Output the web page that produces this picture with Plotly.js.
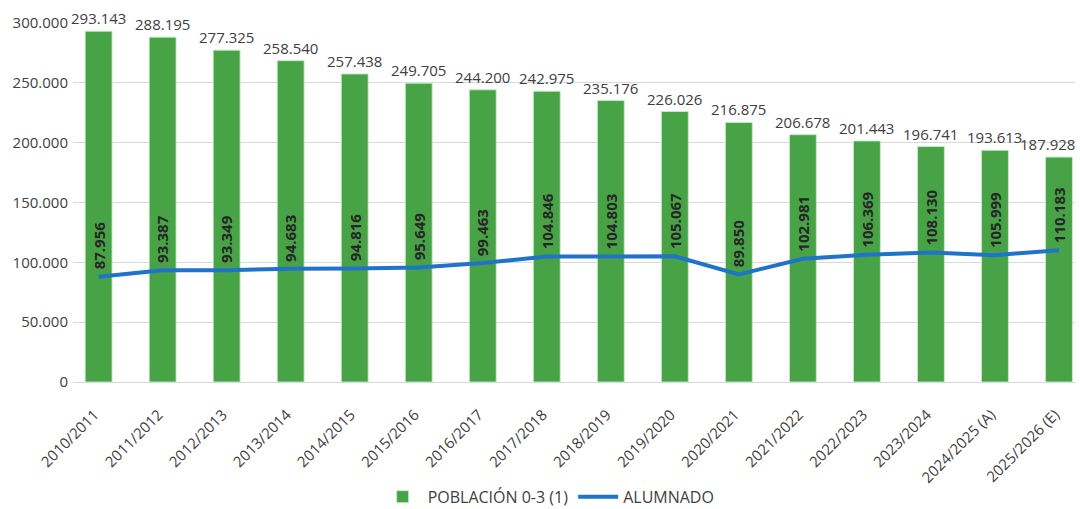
<!DOCTYPE html>
<html>
<head>
<meta charset="utf-8">
<script src="https://cdn.plot.ly/plotly-3.0.1.min.js"></script>
<style>
  html, body { margin: 0; padding: 0; background: #ffffff; }
  #chart { width: 1080px; height: 509px; }
</style>
</head>
<body>
<div id="chart"></div>
<script>
const categories = ["2010/2011","2011/2012","2012/2013","2013/2014","2014/2015","2015/2016","2016/2017","2017/2018","2018/2019","2019/2020","2020/2021","2021/2022","2022/2023","2023/2024","2024/2025 (A)","2025/2026 (E)"];
// bar heights as drawn in the picture
const poblacion = [293143, 288195, 277325, 268540, 257438, 249705, 244200, 242975, 235176, 226026, 216875, 206678, 201443, 196741, 193613, 187928];
// labels printed above the bars
const poblacionLabels = ["293.143","288.195","277.325","258.540","257.438","249.705","244.200","242.975","235.176","226.026","216.875","206.678","201.443","196.741","193.613","187.928"];
const alumnado = [87956, 93387, 93349, 94683, 94816, 95649, 99463, 104846, 104803, 105067, 89850, 102981, 106369, 108130, 105999, 110183];
const alumnadoLabels = ["87.956","93.387","93.349","94.683","94.816","95.649","99.463","104.846","104.803","105.067","89.850","102.981","106.369","108.130","105.999","110.183"];

const xs = categories.map((c, i) => i);

const barTrace = {
  type: "bar",
  name: "POBLACIÓN 0-3 (1)",
  x: xs,
  y: poblacion,
  width: 0.42,
  cliponaxis: false,
  marker: { color: "#47a346", line: { color: "rgba(200,235,200,0.9)", width: 1 } },
  hoverinfo: "skip"
};

const lineTrace = {
  type: "scatter",
  mode: "lines",
  name: "ALUMNADO",
  x: xs,
  y: alumnado,
  line: { color: "#1f74c9", width: 4 },
  hoverinfo: "skip"
};

const lastIdx = categories.length - 1;
const barLabelAnns = poblacion.map((v, i) => ({
  x: i,
  y: v,
  xref: "x",
  yref: "y",
  text: poblacionLabels[i],
  showarrow: false,
  xanchor: i === lastIdx ? "right" : "center",
  xshift: i === lastIdx ? 18 : 0,
  yanchor: "bottom",
  yshift: 1,
  font: { family: "Open Sans", size: 15, color: "#404040" }
}));

const lineLabelAnns = alumnado.map((v, i) => ({
  x: i,
  y: v,
  xref: "x",
  yref: "y",
  text: alumnadoLabels[i],
  textangle: -90,
  showarrow: false,
  xanchor: "center",
  yanchor: "bottom",
  yshift: 5,
  font: { family: "Open Sans", size: 15, color: "#262626", weight: "bold" }
}));

const layout = {
  width: 1080,
  height: 509,
  margin: { l: 73, r: 5, t: 23, b: 127 },
  paper_bgcolor: "#ffffff",
  plot_bgcolor: "#ffffff",
  separators: ",.",
  showlegend: true,
  legend: {
    orientation: "h",
    xref: "container",
    yref: "container",
    x: 0.508,
    xanchor: "center",
    y: 0.024,
    yanchor: "middle",
    font: { family: "Open Sans", size: 16, color: "#404040" },
    traceorder: "normal",
    itemwidth: 40
  },
  xaxis: {
    type: "linear",
    automargin: false,
    range: [-0.4, 15.25],
    tickmode: "array",
    tickvals: xs,
    ticktext: categories,
    tickangle: -45,
    tickfont: { family: "Open Sans", size: 15, color: "#404040" },
    showgrid: false,
    zeroline: false,
    showline: false,
    ticks: "",
    ticklabelstandoff: 20,
    ticklabelshift: -4
  },
  yaxis: {
    automargin: false,
    range: [0, 300000],
    tickmode: "linear",
    tick0: 0,
    dtick: 50000,
    tickformat: ",d",
    tickfont: { family: "Open Sans", size: 15, color: "#404040" },
    gridcolor: "#d9d9d9",
    gridwidth: 1,
    zeroline: true,
    zerolinecolor: "#d9d9d9",
    zerolinewidth: 1,
    showline: false,
    ticks: "",
    ticklabelstandoff: 4
  },
  annotations: barLabelAnns.concat(lineLabelAnns)
};

Plotly.newPlot("chart", [barTrace, lineTrace], layout, { displayModeBar: false, staticPlot: true });
</script>
</body>
</html>
